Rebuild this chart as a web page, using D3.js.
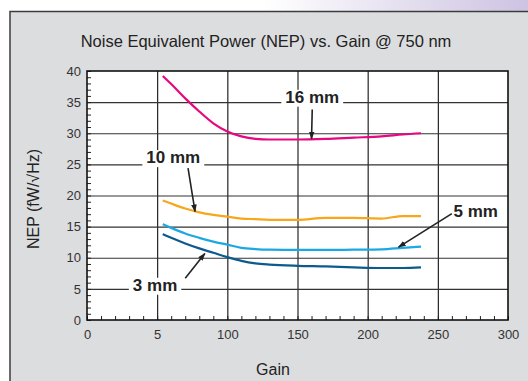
<!DOCTYPE html>
<html>
<head>
<meta charset="utf-8">
<script src="https://cdn.jsdelivr.net/npm/d3@7"></script>
<style>
  body { margin: 0; background: #fff; }
  text { font-family: "Liberation Sans", Arial, sans-serif; }
</style>
</head>
<body>
<div id="chart"></div>
<script>
// ... data
const gain = [54, 60, 70, 80, 90, 100, 110, 120, 130, 150, 170, 190, 210, 225, 238];
const nep16 = [39.2, 37.9, 35.6, 33.5, 31.6, 30.3, 29.5, 29.1, 29.0, 29.0, 29.1, 29.3, 29.5, 29.8, 30.0];
const nep10 = [19.2, 18.7, 17.9, 17.3, 16.9, 16.6, 16.3, 16.2, 16.1, 16.1, 16.4, 16.4, 16.3, 16.7, 16.7];
const nep5 = [15.4, 14.8, 13.9, 13.2, 12.6, 12.1, 11.6, 11.4, 11.3, 11.25, 11.25, 11.3, 11.35, 11.6, 11.8];
const nep3 = [13.8, 13.2, 12.3, 11.5, 10.8, 10.1, 9.5, 9.1, 8.9, 8.7, 8.6, 8.45, 8.35, 8.35, 8.45];

const series = [
  { name: '16 mm', values: nep16, color: '#e5087f' },
  { name: '10 mm', values: nep10, color: '#f6a71c' },
  { name: '5 mm', values: nep5, color: '#1ba9e1' },
  { name: '3 mm', values: nep3, color: '#0d5b8c' }
];

const xTicks = [0, 50, 100, 150, 200, 250, 300];
const xTickLabels = ['0', '5', '100', '150', '200', '250', '300'];
const yTicks = [0, 5, 10, 15, 20, 25, 30, 35, 40];

// label text, the point it sits at, and where its arrow points
const notes = [
  { text: '16 mm', tx: 160.5, ty: 34.9, ax: 160, ay: 29.1, sy: 33.8 },
  { text: '10 mm', tx: 61.5, ty: 25.2, ax: 77, ay: 17.4, sx: 72, sy: 24.4 },
  { text: '5 mm', tx: 277, ty: 16.6, ax: 222, ay: 11.7, sx: 260, sy: 17.1 },
  { text: '3 mm', tx: 48.5, ty: 4.7, ax: 84, ay: 10.7, sx: 70, sy: 6.7 }
];

const W = 528, H = 381;
const svg = d3.select('#chart').append('svg')
  .attr('width', W)
  .attr('height', H);

const defs = svg.append('defs');
const grad = defs.append('linearGradient').attr('id', 'topfade');
grad.append('stop').attr('offset', '0.5').attr('stop-color', '#ffffff');
grad.append('stop').attr('offset', '1').attr('stop-color', '#cdc3e2');
defs.append('marker')
  .attr('id', 'arrow')
  .attr('viewBox', '0 0 10 10')
  .attr('refX', 9).attr('refY', 5)
  .attr('markerWidth', 5).attr('markerHeight', 5)
  .attr('orient', 'auto')
  .append('path')
  .attr('d', 'M0,1.5 L10,5 L0,8.5 Z')
  .attr('fill', '#222');

// ... background
svg.append('rect').attr('width', W).attr('height', 12).attr('fill', 'url(#topfade)');
svg.append('rect')
  .attr('x', 10).attr('y', 11.5)
  .attr('width', W).attr('height', H)
  .attr('fill', '#dcdddf')
  .attr('stroke', '#3c3c3c')
  .attr('stroke-width', 1.5);

const m = { left: 87, right: 508, top: 71, bottom: 320 };

const x = d3.scaleLinear().domain([0, 300]).range([m.left, m.right]);
const y = d3.scaleLinear().domain([0, 40]).range([m.bottom, m.top]);

svg.append('rect')
  .attr('x', m.left).attr('y', m.top)
  .attr('width', m.right - m.left).attr('height', m.bottom - m.top)
  .attr('fill', '#fff');

// ... grid
svg.append('g')
  .attr('transform', 'translate(0,' + m.bottom + ')')
  .call(d3.axisBottom(x).tickValues(xTicks.slice(1, -1)).tickSize(-(m.bottom - m.top)).tickFormat(''))
  .call(g => g.select('.domain').remove())
  .selectAll('line').attr('stroke', '#111').attr('stroke-width', 1.1);

svg.append('g')
  .attr('transform', 'translate(' + m.left + ',0)')
  .call(d3.axisLeft(y).tickValues(yTicks.slice(1, -1)).tickSize(-(m.right - m.left)).tickFormat(''))
  .call(g => g.select('.domain').remove())
  .selectAll('line').attr('stroke', '#333').attr('stroke-width', 1.1);

// ... minor ticks, pointing inwards
svg.append('g')
  .attr('transform', 'translate(0,' + m.bottom + ')')
  .call(d3.axisBottom(x).tickValues(d3.range(0, 301, 10)).tickSize(-4).tickFormat(''))
  .call(g => g.select('.domain').remove())
  .selectAll('line').attr('stroke', '#222');

svg.append('g')
  .attr('transform', 'translate(' + m.left + ',0)')
  .call(d3.axisLeft(y).tickValues(d3.range(0, 41, 1)).tickSize(-4).tickFormat(''))
  .call(g => g.select('.domain').remove())
  .selectAll('line').attr('stroke', '#222');

// ... tick labels
svg.append('g')
  .attr('transform', 'translate(0,' + m.bottom + ')')
  .call(d3.axisBottom(x).tickValues(xTicks).tickSize(0).tickPadding(10)
    .tickFormat((d, i) => xTickLabels[i]))
  .call(g => g.select('.domain').remove())
  .selectAll('text').attr('font-size', 13).attr('fill', '#333')
  .style('font-family', '"Liberation Sans", Arial, sans-serif');

svg.append('g')
  .attr('transform', 'translate(' + m.left + ',0)')
  .call(d3.axisLeft(y).tickValues(yTicks).tickSize(0).tickPadding(6))
  .call(g => g.select('.domain').remove())
  .selectAll('text').attr('font-size', 13).attr('fill', '#333')
  .style('font-family', '"Liberation Sans", Arial, sans-serif');

// ... frame
svg.append('rect')
  .attr('x', m.left).attr('y', m.top)
  .attr('width', m.right - m.left).attr('height', m.bottom - m.top)
  .attr('fill', 'none')
  .attr('stroke', '#111')
  .attr('stroke-width', 1.6);

// ... curves
const line = d3.line()
  .x((d, i) => x(gain[i]))
  .y(d => y(d))
  .curve(d3.curveMonotoneX);

svg.append('g').selectAll('path')
  .data(series)
  .join('path')
  .attr('d', d => line(d.values))
  .attr('fill', 'none')
  .attr('stroke', d => d.color)
  .attr('stroke-width', 2.2);

// ... annotations
notes.forEach(n => {
  const g = svg.append('g');
  const t = g.append('text')
    .attr('x', x(n.tx)).attr('y', y(n.ty))
    .attr('text-anchor', 'middle')
    .attr('font-size', 17)
    .attr('font-weight', 'bold')
    .attr('fill', '#222')
    .text(n.text);
  const b = t.node().getBBox();
  g.insert('rect', 'text')
    .attr('x', b.x - 4).attr('y', b.y + 2)
    .attr('width', b.width + 8).attr('height', b.height - 2)
    .attr('fill', '#fff');
  g.append('line')
    .attr('x1', x(n.sx !== undefined ? n.sx : n.tx)).attr('y1', y(n.sy))
    .attr('x2', x(n.ax)).attr('y2', y(n.ay))
    .attr('stroke', '#222')
    .attr('stroke-width', 1.6)
    .attr('marker-end', 'url(#arrow)');
});

// ... titles
svg.append('text')
  .attr('x', 266).attr('y', 47)
  .attr('text-anchor', 'middle')
  .attr('font-size', 16.5)
  .attr('fill', '#222')
  .text('Noise Equivalent Power (NEP) vs. Gain @ 750 nm');

svg.append('text')
  .attr('transform', 'translate(39,' + 199 + ') rotate(-90)')
  .attr('text-anchor', 'middle')
  .attr('font-size', 16)
  .attr('fill', '#222')
  .text('NEP (fW/\u221AHz)');

svg.append('text')
  .attr('x', 273).attr('y', 375)
  .attr('text-anchor', 'middle')
  .attr('font-size', 16)
  .attr('fill', '#222')
  .text('Gain');
</script>
</body>
</html>
